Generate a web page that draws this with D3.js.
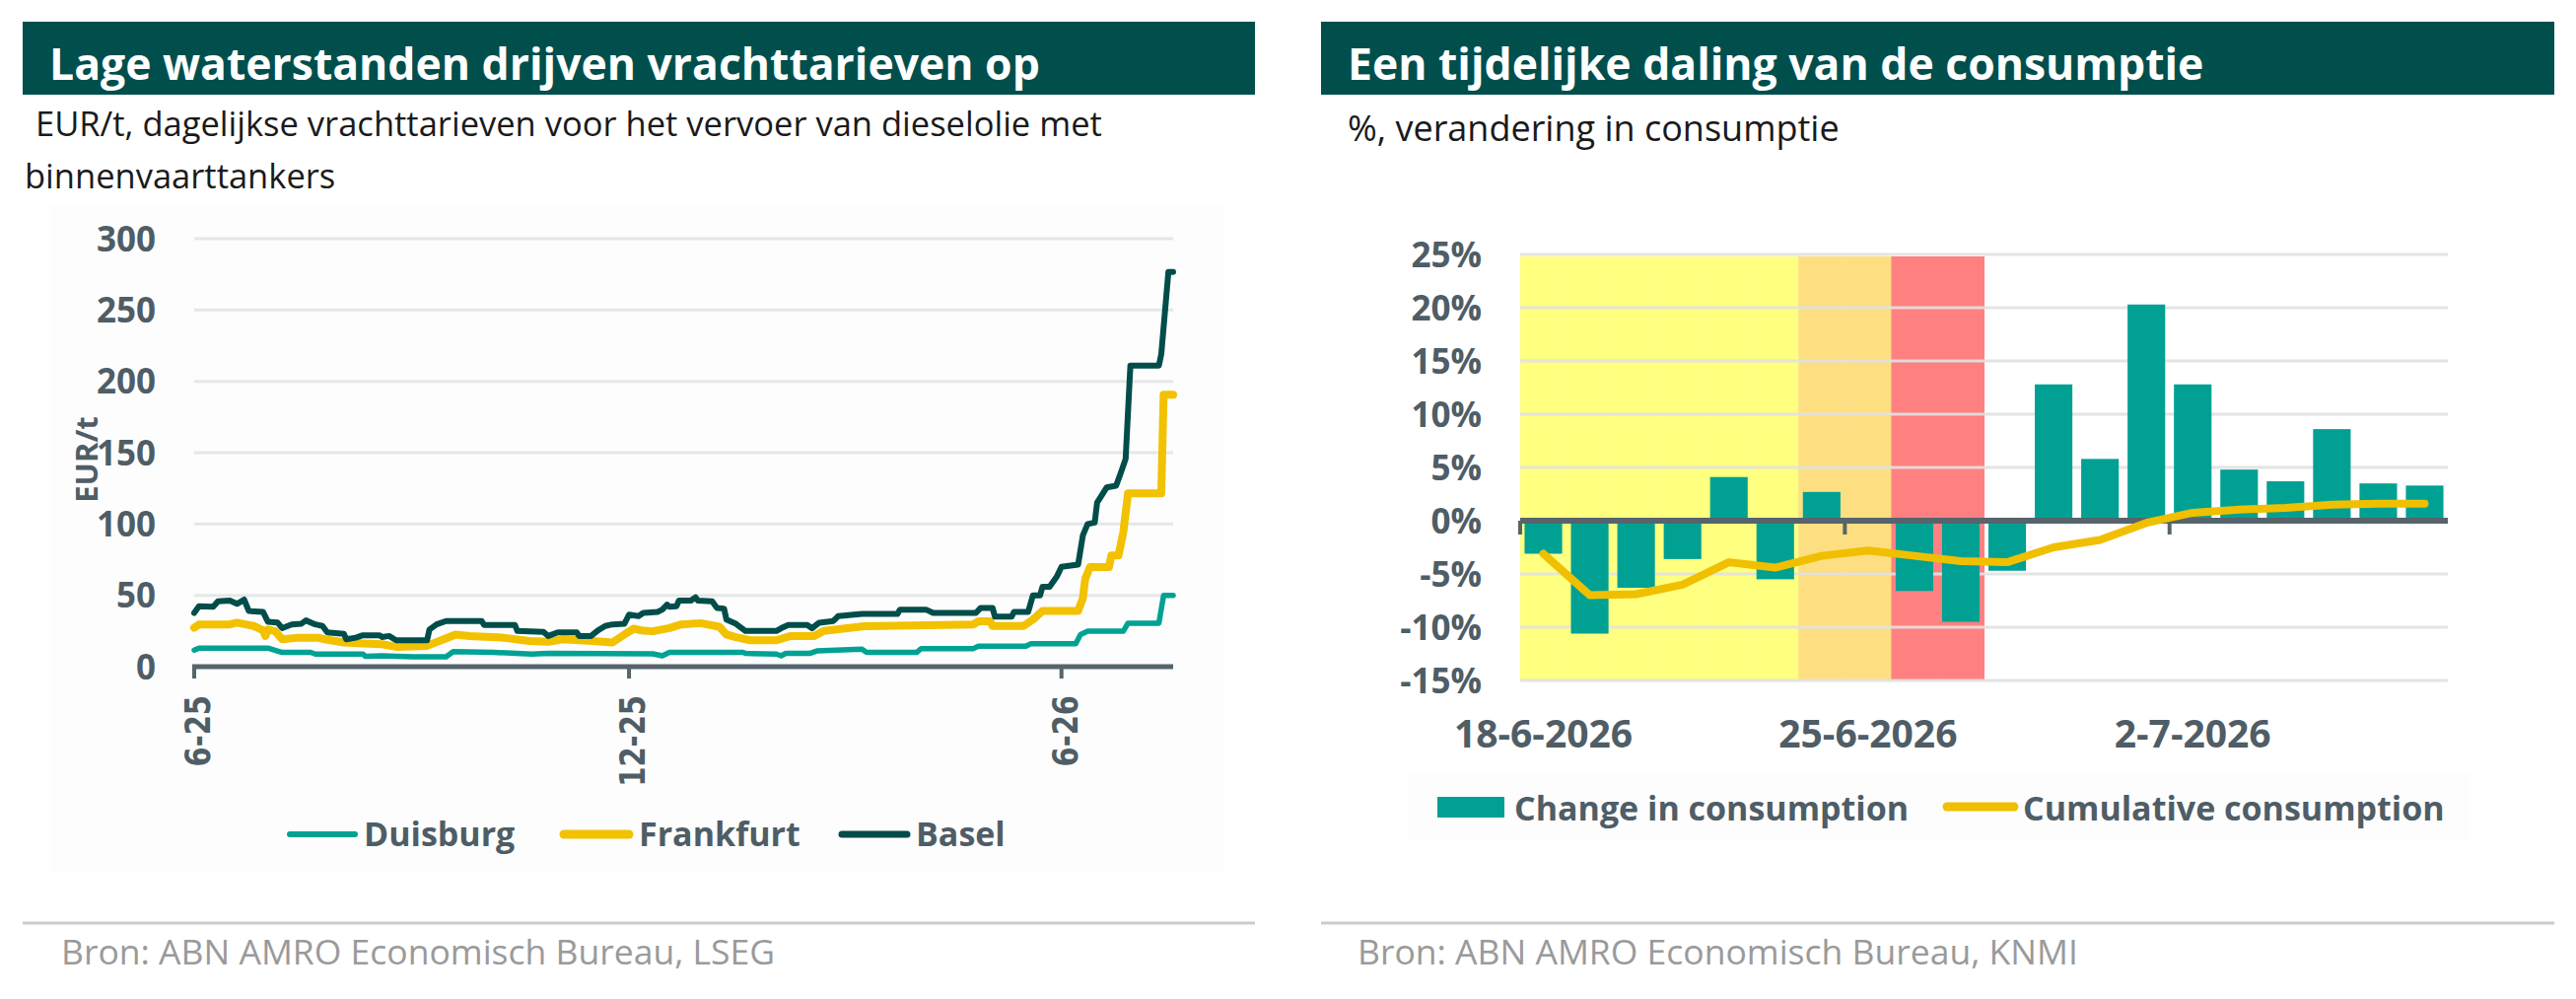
<!DOCTYPE html>
<html>
<head>
<meta charset="utf-8">
<script src="https://cdn.jsdelivr.net/npm/d3@7"></script>
<style>
  html, body { margin: 0; padding: 0; background: #ffffff; }
  svg { display: block; }
  text { font-family: "Open Sans", "DejaVu Sans", sans-serif; }
</style>
</head>
<body>
<svg id="chart" width="2613" height="1013"></svg>
<script>
// ---------------- DATA: left chart (EUR/t) ----------------
const leftTitle = "Lage waterstanden drijven vrachttarieven op";
const leftSubtitle = ["EUR/t, dagelijkse vrachttarieven voor het vervoer van dieselolie met", "binnenvaarttankers"];
const leftSource = "Bron: ABN AMRO Economisch Bureau, LSEG";
const leftYTicks = [0, 50, 100, 150, 200, 250, 300];
const leftXTicks = ["2025-06-01", "2025-12-01", "2026-06-01"];
const seriesNames = ["Duisburg", "Frankfurt", "Basel"];

const duisburg = [
  ["2025-06-01", 11.6], ["2025-06-03", 13], ["2025-07-02", 13], ["2025-07-08", 10], ["2025-07-20", 10],
  ["2025-07-22", 8.8], ["2025-08-11", 8.8], ["2025-08-12", 7.2], ["2025-08-19", 7.6], ["2025-09-01", 6.9],
  ["2025-09-15", 6.9], ["2025-09-18", 10.6], ["2025-10-05", 10], ["2025-10-21", 8.8], ["2025-10-28", 9.3],
  ["2025-12-11", 9.0], ["2025-12-15", 7.6], ["2025-12-18", 10], ["2026-01-18", 10], ["2026-01-19", 9.3],
  ["2026-02-01", 8.8], ["2026-02-03", 7.6], ["2026-02-05", 9.3], ["2026-02-15", 9.3], ["2026-02-18", 11],
  ["2026-03-09", 12.3], ["2026-03-11", 10], ["2026-04-01", 10], ["2026-04-03", 12.7], ["2026-04-25", 12.7],
  ["2026-04-27", 14.3], ["2026-05-17", 14.3], ["2026-05-19", 16], ["2026-06-07", 16], ["2026-06-09", 22.5],
  ["2026-06-12", 24.8], ["2026-06-27", 24.8], ["2026-06-29", 30.5], ["2026-07-12", 30.5], ["2026-07-14", 50],
  ["2026-07-18", 50]
];

const frankfurt = [
  ["2025-06-01", 27.3], ["2025-06-03", 29.6], ["2025-06-16", 29.6], ["2025-06-19", 30.8], ["2025-06-26", 28.5],
  ["2025-06-30", 25.5], ["2025-07-01", 21.5], ["2025-07-02", 26], ["2025-07-05", 25], ["2025-07-08", 19.2],
  ["2025-07-15", 20.3], ["2025-07-23", 20.3], ["2025-07-26", 19.2], ["2025-08-03", 16.9], ["2025-08-11", 16.2],
  ["2025-08-19", 15.7], ["2025-08-25", 13.9], ["2025-09-07", 14.6], ["2025-09-14", 19.2], ["2025-09-19", 22.5],
  ["2025-09-25", 21.5], ["2025-10-09", 20.3], ["2025-10-20", 18], ["2025-10-28", 17.4], ["2025-11-03", 19.2],
  ["2025-11-16", 18], ["2025-11-24", 16.9], ["2025-11-29", 22.5], ["2025-12-03", 26.6], ["2025-12-07", 25.2],
  ["2025-12-11", 24.8], ["2025-12-18", 27], ["2025-12-23", 29.6], ["2025-12-31", 30.5], ["2026-01-08", 28],
  ["2026-01-11", 22.5], ["2026-01-15", 20.6], ["2026-01-21", 18.5], ["2026-02-01", 18.5], ["2026-02-07", 21.5],
  ["2026-02-17", 21.5], ["2026-02-21", 25], ["2026-03-10", 28.3], ["2026-04-25", 29.6], ["2026-04-27", 31.8],
  ["2026-05-02", 31.8], ["2026-05-03", 28.5], ["2026-05-16", 28.5], ["2026-05-20", 33], ["2026-05-24", 39],
  ["2026-06-08", 39], ["2026-06-10", 48], ["2026-06-11", 61.7], ["2026-06-13", 69.8], ["2026-06-21", 69.8],
  ["2026-06-22", 77.9], ["2026-06-25", 77.9], ["2026-06-27", 94], ["2026-06-29", 121.5], ["2026-07-13", 121.5],
  ["2026-07-14", 190.6], ["2026-07-18", 190.6]
];

const basel = [
  ["2025-06-01", 37.7], ["2025-06-03", 42.4], ["2025-06-09", 42], ["2025-06-11", 45.8], ["2025-06-16", 46.3],
  ["2025-06-19", 44], ["2025-06-22", 47], ["2025-06-24", 39], ["2025-06-30", 38.3], ["2025-07-02", 31.5],
  ["2025-07-06", 31], ["2025-07-08", 27], ["2025-07-12", 29.6], ["2025-07-16", 30], ["2025-07-18", 32.4],
  ["2025-07-22", 29.6], ["2025-07-25", 28.5], ["2025-07-27", 24], ["2025-08-03", 23], ["2025-08-04", 19.2],
  ["2025-08-08", 20.3], ["2025-08-11", 22], ["2025-08-18", 22], ["2025-08-19", 20.8], ["2025-08-22", 21.5],
  ["2025-08-25", 18.5], ["2025-09-07", 18.5], ["2025-09-08", 26], ["2025-09-11", 29.6], ["2025-09-15", 32],
  ["2025-09-30", 32], ["2025-10-01", 29.2], ["2025-10-14", 29.2], ["2025-10-15", 25], ["2025-10-26", 24.4],
  ["2025-10-28", 21.5], ["2025-11-01", 24], ["2025-11-09", 24], ["2025-11-10", 21.5], ["2025-11-15", 21.5],
  ["2025-11-18", 25.5], ["2025-11-21", 28.5], ["2025-11-24", 29.6], ["2025-11-29", 30], ["2025-12-01", 36.4],
  ["2025-12-05", 35.4], ["2025-12-07", 37.7], ["2025-12-13", 38.4], ["2025-12-15", 40], ["2025-12-17", 43.5],
  ["2025-12-18", 42], ["2025-12-21", 42.4], ["2025-12-22", 46.3], ["2025-12-27", 46.3], ["2025-12-29", 48.6],
  ["2025-12-30", 46.3], ["2026-01-05", 45.8], ["2026-01-07", 41.2], ["2026-01-10", 40.7], ["2026-01-11", 33],
  ["2026-01-15", 30], ["2026-01-19", 25], ["2026-02-01", 25], ["2026-02-03", 26.9], ["2026-02-06", 29.2],
  ["2026-02-14", 29.2], ["2026-02-16", 26.9], ["2026-02-19", 30.8], ["2026-02-25", 32], ["2026-02-27", 35.4],
  ["2026-03-09", 37], ["2026-03-24", 37], ["2026-03-25", 40], ["2026-04-05", 40], ["2026-04-08", 37.7],
  ["2026-04-26", 37.7], ["2026-04-28", 41.2], ["2026-05-03", 41.2], ["2026-05-04", 35], ["2026-05-11", 35],
  ["2026-05-12", 38.4], ["2026-05-18", 38.4], ["2026-05-20", 50], ["2026-05-23", 50], ["2026-05-24", 56],
  ["2026-05-27", 56], ["2026-05-30", 63], ["2026-06-01", 70], ["2026-06-08", 71.5], ["2026-06-10", 92],
  ["2026-06-12", 100], ["2026-06-15", 101], ["2026-06-16", 115], ["2026-06-17", 117.6], ["2026-06-20", 125.6],
  ["2026-06-24", 126.8], ["2026-06-26", 136], ["2026-06-28", 145.6], ["2026-06-30", 211], ["2026-07-12", 211],
  ["2026-07-13", 219], ["2026-07-16", 276.6], ["2026-07-18", 276.6]
];

// ---------------- DATA: right chart (% change) ----------------
const rightTitle = "Een tijdelijke daling van de consumptie";
const rightSubtitle = "%, verandering in consumptie";
const rightSource = "Bron: ABN AMRO Economisch Bureau, KNMI";
const days = ["18-6-2026", "19-6-2026", "20-6-2026", "21-6-2026", "22-6-2026", "23-6-2026", "24-6-2026",
  "25-6-2026", "26-6-2026", "27-6-2026", "28-6-2026", "29-6-2026", "30-6-2026", "1-7-2026",
  "2-7-2026", "3-7-2026", "4-7-2026", "5-7-2026", "6-7-2026", "7-7-2026"];
const changeInConsumption = [-3.1, -10.6, -6.3, -3.6, 4.1, -5.5, 2.7, 0, -6.6, -9.5,
  -4.7, 12.8, 5.8, 20.3, 12.8, 4.8, 3.7, 8.6, 3.5, 3.3];
const cumulativeConsumption = [-3.1, -7.0, -6.9, -6.0, -3.9, -4.4, -3.3, -2.8, -3.3, -3.8,
  -3.9, -2.5, -1.8, -0.2, 0.75, 1.05, 1.2, 1.5, 1.6, 1.6];
const warningLevel = ["geel", "geel", "geel", "geel", "geel", "geel", "oranje", "oranje", "rood", "rood",
  null, null, null, null, null, null, null, null, null, null];
const rightYTicks = [-15, -10, -5, 0, 5, 10, 15, 20, 25];
const rightXLabelEvery = 7;
const rightLegend = ["Change in consumption", "Cumulative consumption"];

// ---------------- STYLE ----------------
const C = {
  header: "#004f4d", axisText: "#4f5d66", grid: "#e4e7ea", axis: "#56646c",
  duisburg: "#00a293", frankfurt: "#f2c100", basel: "#004d4a",
  bar: "#00a193", cum: "#f0bf00", source: "#9a9a9a",
  geel: "#ffff80", oranje: "#fddf82", rood: "#ff8080", panel: "#fdfdfd"
};

const svg = d3.select("#chart");
const parse = d3.timeParse("%Y-%m-%d");

function header(x0, x1, title, tx) {
  svg.append("rect").attr("x", x0).attr("y", 22).attr("width", x1 - x0).attr("height", 74).attr("fill", C.header);
  svg.append("text").attr("x", tx).attr("y", 81).attr("fill", "#fff")
    .attr("font-size", 44.5).attr("font-weight", 700).text(title);
}
function footer(x0, x1, tx, txt) {
  svg.append("line").attr("x1", x0).attr("x2", x1).attr("y1", 936).attr("y2", 936)
    .attr("stroke", "#cccccc").attr("stroke-width", 3);
  svg.append("text").attr("x", tx).attr("y", 978).attr("fill", C.source)
    .attr("font-size", 35.5).text(txt);
}

// ================= LEFT CHART =================
header(23, 1273, leftTitle, 50);
svg.append("text").attr("x", 36).attr("y", 138).attr("font-size", 34.5).attr("fill", "#1a1a1a").text(leftSubtitle[0]);
svg.append("text").attr("x", 25).attr("y", 191).attr("font-size", 34.5).attr("fill", "#1a1a1a").text(leftSubtitle[1]);
svg.append("rect").attr("x", 52).attr("y", 207).attr("width", 1190).attr("height", 678).attr("fill", C.panel);

const xL = d3.scaleTime().domain([parse("2025-06-01"), parse("2026-07-18")]).range([197, 1190]);
const yL = d3.scaleLinear().domain([0, 300]).range([676, 242]);

const gL = svg.append("g");
// gridlines
gL.append("g").selectAll("line").data(leftYTicks.filter(d => d > 0)).join("line")
  .attr("x1", xL.range()[0]).attr("x2", xL.range()[1])
  .attr("y1", d => yL(d)).attr("y2", d => yL(d))
  .attr("stroke", C.grid).attr("stroke-width", 3);
// y labels
gL.append("g").selectAll("text").data(leftYTicks).join("text")
  .attr("x", 158).attr("y", d => yL(d)).attr("dy", "0.36em")
  .attr("text-anchor", "end").attr("font-size", 35).attr("font-weight", 700)
  .attr("fill", C.axisText).text(d => d);
// y title
svg.append("text").attr("transform", "translate(99,466) rotate(-90)")
  .attr("text-anchor", "middle").attr("font-size", 31).attr("font-weight", 700)
  .attr("fill", C.axisText).text("EUR/t");

// lines
const lineL = d3.line().x(d => xL(parse(d[0]))).y(d => yL(d[1]));
[[duisburg, C.duisburg, 5.5], [frankfurt, C.frankfurt, 8], [basel, C.basel, 6]].forEach(([data, col, w]) => {
  gL.append("path").attr("d", lineL(data)).attr("fill", "none").attr("stroke", col)
    .attr("stroke-width", w).attr("stroke-linejoin", "round").attr("stroke-linecap", "round");
});

// x axis
gL.append("line").attr("x1", xL.range()[0] - 2).attr("x2", xL.range()[1]).attr("y1", yL(0)).attr("y2", yL(0))
  .attr("stroke", C.axis).attr("stroke-width", 5);
const fmtL = d3.timeFormat("%-m-%y");
gL.append("g").selectAll("line").data(leftXTicks).join("line")
  .attr("x1", d => xL(parse(d))).attr("x2", d => xL(parse(d)))
  .attr("y1", yL(0)).attr("y2", yL(0) + 12)
  .attr("stroke", C.axis).attr("stroke-width", 4);
gL.append("g").selectAll("text").data(leftXTicks).join("text")
  .attr("transform", d => `translate(${xL(parse(d)) + 4},705) rotate(-90) scale(1,1.2)`)
  .attr("text-anchor", "end").attr("dominant-baseline", "central")
  .style("font-family", "'DejaVu Sans', sans-serif")
  .attr("font-size", 29).attr("font-weight", 700).attr("fill", C.axisText)
  .text(d => fmtL(parse(d)));

// legend
const legL = [[290, 369, C.duisburg, 6], [568, 648, C.frankfurt, 9], [850, 929, C.basel, 7]];
seriesNames.forEach((name, i) => {
  const [lx, tx, col, w] = legL[i];
  svg.append("line").attr("x1", lx + 4).attr("x2", lx + 70).attr("y1", 846).attr("y2", 846)
    .attr("stroke", col).attr("stroke-width", w).attr("stroke-linecap", "round");
  svg.append("text").attr("x", tx).attr("y", 858).attr("font-size", 34).attr("font-weight", 700)
    .attr("fill", C.axisText).text(name);
});
footer(23, 1273, 62, leftSource);

// ================= RIGHT CHART =================
header(1340, 2591, rightTitle, 1367);
svg.append("text").attr("x", 1367).attr("y", 143).attr("font-size", 36).attr("fill", "#1a1a1a").text(rightSubtitle);

const xR = d3.scaleBand().domain(days).range([1542, 2483]).paddingInner(0.19).paddingOuter(0.095);
const yR = d3.scaleLinear().domain([-15, 25]).range([690, 258]);
const step = xR.step();
const slotLeft = d => xR(d) - step * xR.paddingInner() / 2;

// warning shading
svg.append("g").selectAll("rect").data(days.map((d, i) => ({ d, w: warningLevel[i] })).filter(o => o.w)).join("rect")
  .attr("x", o => slotLeft(o.d)).attr("width", step + 0.5)
  .attr("y", yR(25) + 2).attr("height", yR(-15) - yR(25) - 2)
  .attr("fill", o => C[o.w]);

// gridlines
svg.append("g").selectAll("line").data(rightYTicks).join("line")
  .attr("x1", 1542).attr("x2", 2483).attr("y1", d => yR(d)).attr("y2", d => yR(d))
  .attr("stroke", "#e2e2e2").attr("stroke-width", 3).attr("opacity", 0.9);

// y labels
svg.append("g").selectAll("text").data(rightYTicks).join("text")
  .attr("x", 1503).attr("y", d => yR(d)).attr("dy", "0.36em").attr("text-anchor", "end")
  .attr("font-size", 35).attr("font-weight", 700).attr("fill", C.axisText).text(d => d + "%");

// bars
svg.append("g").selectAll("rect").data(days.map((d, i) => ({ d, v: changeInConsumption[i] }))).join("rect")
  .attr("x", o => xR(o.d)).attr("width", xR.bandwidth())
  .attr("y", o => yR(Math.max(0, o.v))).attr("height", o => Math.abs(yR(o.v) - yR(0)))
  .attr("fill", C.bar);

// axis line + ticks
svg.append("line").attr("x1", 1542).attr("x2", 2483).attr("y1", yR(0)).attr("y2", yR(0))
  .attr("stroke", C.axis).attr("stroke-width", 6);
const tickIdx = days.map((d, i) => i).filter(i => i % rightXLabelEvery === 0);
svg.append("g").selectAll("line").data(tickIdx).join("line")
  .attr("x1", i => slotLeft(days[i])).attr("x2", i => slotLeft(days[i]))
  .attr("y1", yR(0)).attr("y2", yR(0) + 14).attr("stroke", C.axis).attr("stroke-width", 4);
svg.append("g").selectAll("text").data(tickIdx).join("text")
  .attr("x", i => xR(days[i]) + xR.bandwidth() / 2).attr("y", 758).attr("text-anchor", "middle")
  .attr("font-size", 39).attr("font-weight", 700).attr("fill", C.axisText).text(i => days[i]);

// cumulative line
const lineR = d3.line().x((v, i) => xR(days[i]) + xR.bandwidth() / 2).y(v => yR(v));
svg.append("path").attr("d", lineR(cumulativeConsumption)).attr("fill", "none")
  .attr("stroke", C.cum).attr("stroke-width", 8).attr("stroke-linecap", "round").attr("stroke-linejoin", "round");

// legend
svg.append("rect").attr("x", 1427).attr("y", 783).attr("width", 1078).attr("height", 70).attr("fill", C.panel);
svg.append("rect").attr("x", 1458).attr("y", 808).attr("width", 68).attr("height", 21).attr("fill", C.bar);
svg.append("text").attr("x", 1536).attr("y", 832).attr("font-size", 34).attr("font-weight", 700)
  .attr("fill", C.axisText).text(rightLegend[0]);
svg.append("line").attr("x1", 1975).attr("x2", 2043).attr("y1", 818).attr("y2", 818)
  .attr("stroke", C.cum).attr("stroke-width", 9).attr("stroke-linecap", "round");
svg.append("text").attr("x", 2052).attr("y", 832).attr("font-size", 34).attr("font-weight", 700)
  .attr("fill", C.axisText).text(rightLegend[1]);

footer(1340, 2591, 1377, rightSource);
</script>
</body>
</html>
